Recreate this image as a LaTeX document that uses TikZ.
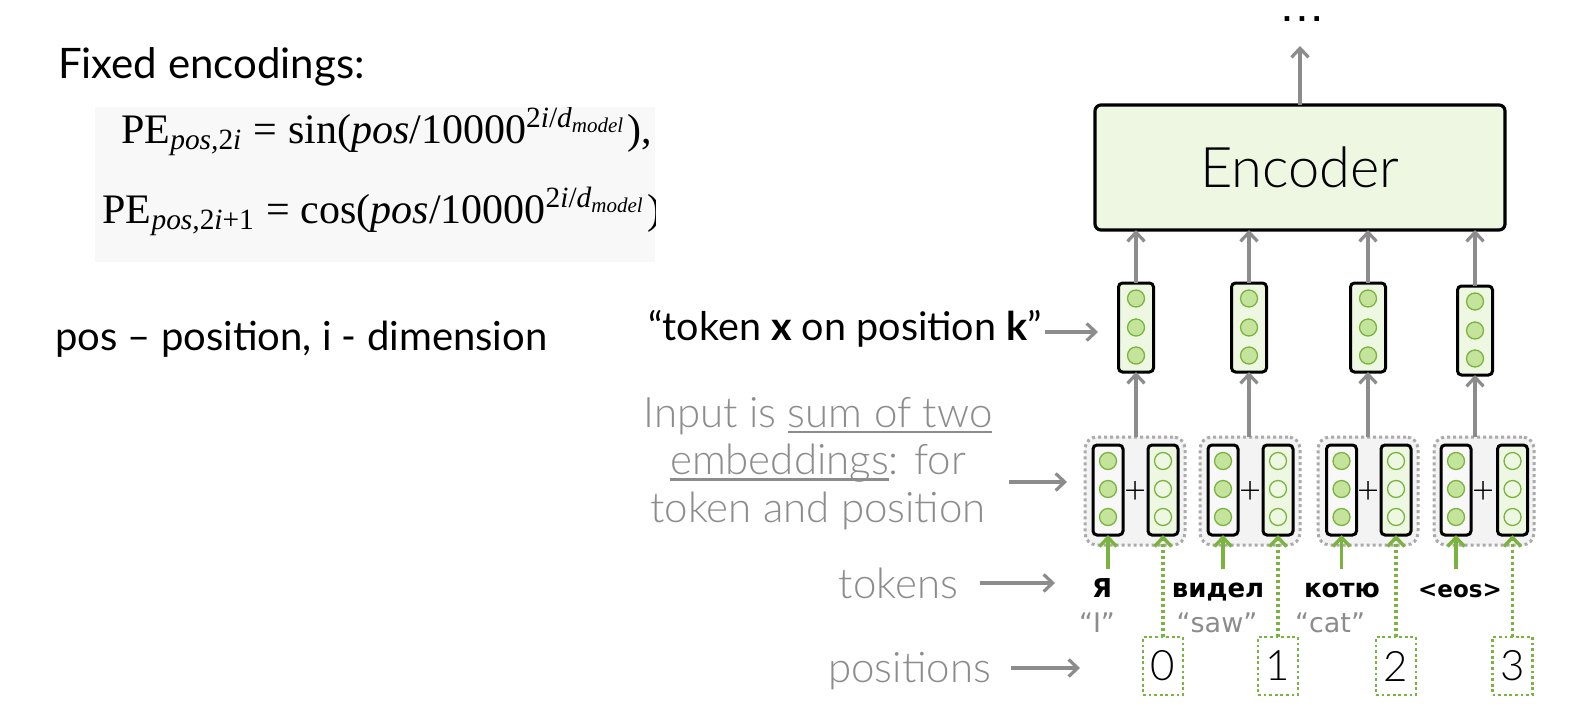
\documentclass[tikz,border=0pt]{standalone}
\usepackage{fontspec}
\setmainfont{Lato}[UprightFont={* Light},BoldFont={* Bold}]
\newfontfamily\regf{Lato}[Ligatures=TeX]
\newfontfamily\tms{Liberation Serif}
\newfontfamily\tokfont{DejaVu Sans}
\newsavebox{\ulbox}
\newcommand\myul[1]{\sbox{\ulbox}{#1}\rlap{\rule[-6pt]{\wd\ulbox}{2.4pt}}\usebox{\ulbox}}
\usetikzlibrary{arrows.meta}
\definecolor{txtgray}{RGB}{140,140,140}
\definecolor{arrgray}{RGB}{140,140,140}
\definecolor{lgreen}{RGB}{238,247,226}
\definecolor{cfill}{RGB}{196,228,155}
\definecolor{cgreen}{RGB}{122,180,62}
\definecolor{pairgray}{RGB}{243,243,243}
\definecolor{dotgray}{RGB}{170,170,170}
\definecolor{fbg}{RGB}{248,248,248}
\definecolor{vgray}{RGB}{248,248,248}
\newcommand\fsz[2]{\fontsize{#1}{#2}\selectfont}
\begin{document}
\begin{tikzpicture}[x=1pt,y=-1pt,
 every node/.style={inner sep=0pt, outer sep=0pt},
 garrow/.style={draw=arrgray, line width=3.2pt, -{Straight Barb[length=9pt,width=17pt]}},
 grarrow/.style={draw=cgreen, line width=3.4pt, -{Straight Barb[length=9pt,width=17pt]}},
 grdot/.style={grarrow, dash pattern=on 3pt off 3pt},
 vecbox/.style={draw=black, line width=3pt, rounded corners=4pt, minimum width=30pt, minimum height=90pt},
 outvec/.style={vecbox, fill=lgreen, minimum width=35pt, minimum height=89pt},
 tokvec/.style={vecbox, fill=vgray},
 posvec/.style={vecbox, fill=lgreen},
 fullc/.style={circle, draw=cgreen, line width=1.3pt, fill=cfill, minimum size=17pt},
 hollc/.style={circle, draw=cgreen, line width=1.3pt, fill=lgreen, minimum size=17pt},
 pairbox/.style={draw=dotgray, line width=3pt, dash pattern=on 3pt off 3pt, fill=pairgray, rounded corners=12pt, minimum width=100pt, minimum height=108pt},
 posbox/.style={draw=cgreen, line width=2.8pt, dash pattern=on 2.8pt off 2.8pt, minimum width=40pt, minimum height=58pt},
 gtext/.style={text=txtgray, font=\fsz{42}{47.5}},
 toktext/.style={font=\tokfont\bfseries\fsz{26}{26}, anchor=base, text height=20pt, text depth=6pt},
 quotetext/.style={font=\tokfont\fsz{27}{27}, text=txtgray, anchor=base},
]
\useasboundingbox[fill=white] (0,0) rectangle (1574,718);

% ---------- left part ----------
\node[anchor=base west, font=\regf\fsz{42}{42}] (fixed) at (58,78) {Fixed encodings:};
\node[fill=fbg, minimum width=560pt, minimum height=155pt] (fbox) at (375,184.5) {};
\begin{scope}
\clip (95,107) rectangle (655,262);
\node[anchor=base east] (f1) at (652,143) {\scalebox{4.2}{\tms PE\textsubscript{\itshape pos,\upshape 2\itshape i} = sin(\textit{pos}/10000\textsuperscript{2\textit{i}/\textit{d}\textsubscript{\itshape model}}),}};
\node[anchor=base east] (f2) at (661,223) {\scalebox{4.2}{\tms PE\textsubscript{\itshape pos,\upshape 2\itshape i\upshape +1} = cos(\textit{pos}/10000\textsuperscript{2\textit{i}/\textit{d}\textsubscript{\itshape model}})}};
\end{scope}
\node[anchor=base west, font=\regf\fsz{40}{40}] (legend) at (55,350) {pos – position, i - dimension};

% ---------- encoder ----------
\node[draw=black, line width=3.2pt, rounded corners=6pt, fill=lgreen, minimum width=410pt, minimum height=125pt, font=\fsz{56}{60}] (enc) at (1300,167.5) {Encoder};
\node[font=\tokfont\bfseries\fsz{26}{26}] (dots) at (1302,19) {.\hspace{5pt}.\hspace{5pt}.};
\coordinate (top) at (1300,46);
\draw[garrow] (enc.north) -- (top);

% ---------- output vectors ----------
\foreach \i/\x/\y in {1/1136/327.5, 2/1249/327.5, 3/1368/327.5, 4/1475/330.5} {
  \node[outvec] (o\i) at (\x,\y) {};
  \foreach \dy in {-29,0,28} {\node[fullc] at (\x,\y+\dy) {};}
  \draw[garrow] (o\i.north) -- (o\i.north |- enc.south);
}

% ---------- input pairs ----------
\foreach \i/\pc/\tx/\px/\plx in {1/1135/1108/1163/1135.5, 2/1250/1223/1278/1250.5, 3/1368/1341.5/1396/1369, 4/1484/1456/1512.5/1484} {
  \node[pairbox] (p\i) at (\pc,491) {};
  \node[tokvec] (tv\i) at (\tx,490) {};
  \node[posvec] (pv\i) at (\px,490) {};
  \foreach \cy in {461,489,517} {\node[fullc] at (\tx,\cy) {}; \node[hollc] at (\px,\cy) {};}
  \node[font=\fsz{38}{38}] (plus\i) at (\plx,492) {+};
  \draw[garrow] (p\i.north -| o\i) -- (o\i.south);
}

% ---------- tokens ----------
\node[toktext] (t1) at (1102,597) {Я};
\node[toktext] (t2) at (1218,597) {видел};
\node[toktext] (t3) at (1342,597) {котю};
\node[toktext, font=\tokfont\bfseries\fsz{23}{23}] (t4) at (1460,597) {<eos>};
\foreach \i in {1,2,3,4} {\draw[grarrow] ([yshift=8pt]t\i.north -| tv\i) -- (tv\i.south);}
\node[quotetext] (q1) at (1097,632) {“I”};
\node[quotetext] (q2) at (1217,632) {“saw”};
\node[quotetext] (q3) at (1330,632) {“cat”};

% ---------- positions ----------
\foreach \i/\x/\d in {1/1163/0, 2/1278/1, 3/1396/2, 4/1512.5/3} {
  \node[posbox, font=\fsz{42}{42}] (b\i) at (\x,666) {\d};
  \draw[grdot] (b\i.north) -- (pv\i.south);
}

% ---------- labels ----------
\node[anchor=base east, font=\regf\fsz{39.5}{39.5}] (lbl) at (1042,340) {“token \textbf{x} on position \textbf{k}”};
\coordinate (lblend) at (1098,332);
\draw[garrow] ([xshift=3pt]lbl.east |- lblend) -- (lblend);

\node[gtext, align=center, anchor=north] (inp) at (818,397) {Input is \myul{sum of two}\\ \myul{embeddings}: for\\ token and position};
\coordinate (inpend) at (1067,482);
\draw[garrow] ([xshift=17pt]inp.east |- inpend) -- (inpend);

\node[gtext, anchor=base east] (tokl) at (958,598) {tokens};
\coordinate (tokend) at (1055,583);
\draw[garrow] ([xshift=22pt]tokl.east |- tokend) -- (tokend);

\node[gtext, anchor=base east] (posl) at (991,682) {positions};
\coordinate (posend) at (1080,668);
\draw[garrow] ([xshift=20pt]posl.east |- posend) -- (posend);
\end{tikzpicture}
\end{document}
